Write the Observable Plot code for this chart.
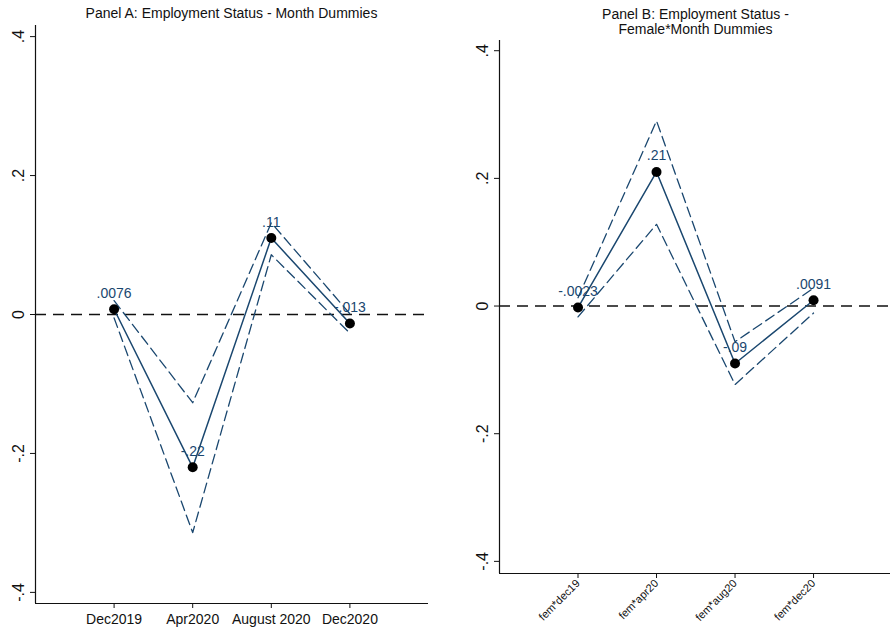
<!DOCTYPE html>
<html>
<head>
<meta charset="utf-8">
<script src="https://cdn.jsdelivr.net/npm/d3@7"></script>
<script src="https://cdn.jsdelivr.net/npm/@observablehq/plot@0.6"></script>
<style>
  html, body { margin: 0; padding: 0; background: #fff; }
  #wrap { position: relative; width: 890px; height: 631px; overflow: hidden; font-family: "Liberation Sans", Arial, sans-serif; }
  .panel { position: absolute; top: 0; }
  .title { position: absolute; text-align: center; font-size: 14px; line-height: 15px; color: #111; white-space: nowrap; }
</style>
</head>
<body>
<div id="wrap">
  <div class="panel" id="pa" style="left:0px"></div>
  <div class="panel" id="pb" style="left:445px"></div>
  <div class="title" style="left:35px;width:393px;top:6px">Panel A: Employment Status - Month Dummies</div>
  <div class="title" style="left:499px;width:393px;top:7px">Panel B: Employment Status -<br>Female*Month Dummies</div>
</div>
<script>
// ---- Panel A data ----
const monthsA = ["Dec2019", "Apr2020", "August 2020", "Dec2020"];
const coefA   = [0.0076, -0.22, 0.11, -0.013];
const lowA    = [-0.005, -0.314, 0.086, -0.027];
const highA   = [0.020, -0.127, 0.132, 0.001];
const labelsA = [".0076", "-.22", ".11", "-.013"];

// ---- Panel B data ----
const monthsB = ["fem*dec19", "fem*apr20", "fem*aug20", "fem*dec20"];
const coefB   = [-0.0023, 0.21, -0.09, 0.0091];
const lowB    = [-0.017, 0.128, -0.123, -0.011];
const highB   = [0.013, 0.29, -0.056, 0.028];
const labelsB = ["-.0023", ".21", "-.09", ".0091"];

const yTicks = [-0.4, -0.2, 0, 0.2, 0.4];

const navy = "#1a476f";
const fmt = d => d === 0 ? "0" : (d < 0 ? "-" : "") + String(Math.abs(d).toFixed(1)).replace(/^0/, "");

function rows(months, coef, low, high, labels) {
  return months.map((m, i) => ({x: i + 1, m, b: coef[i], lo: low[i], hi: high[i], lab: labels[i]}));
}

function panel({data, months, xDomain, yDomain, margins, xTickOpts}) {
  return Plot.plot({
    width: 445, height: 631,
    ...margins,
    x: {domain: xDomain, axis: null},
    y: {domain: yDomain, axis: null},
    style: {fontFamily: "'Liberation Sans', Arial, sans-serif", background: "white", color: "#111"},
    marks: [
      Plot.axisY({ticks: yTicks, tickFormat: fmt, tickRotate: -90, tickSize: 5, fontSize: 16, tickPadding: 7, label: null}),
      Plot.axisX({ticks: [1, 2, 3, 4], tickFormat: i => months[i - 1], tickSize: 5, label: null, ...xTickOpts}),
      Plot.ruleX([xDomain[0]], {stroke: "#111", strokeWidth: 1.2}),
      Plot.ruleY([yDomain[0]], {stroke: "#111", strokeWidth: 1.2}),
      Plot.ruleY([0], {stroke: "#111", strokeWidth: 1.4, strokeDasharray: "11,7"}),
      Plot.line(data, {x: "x", y: "hi", stroke: navy, strokeWidth: 1.3, strokeDasharray: "10,5"}),
      Plot.line(data, {x: "x", y: "lo", stroke: navy, strokeWidth: 1.3, strokeDasharray: "10,5"}),
      Plot.line(data, {x: "x", y: "b", stroke: navy, strokeWidth: 1.5}),
      Plot.dot(data, {x: "x", y: "b", r: 5, fill: "black", stroke: "none"}),
      Plot.text(data, {x: "x", y: "b", text: "lab", dy: -16, fill: navy, fontSize: 14})
    ]
  });
}

document.getElementById("pa").appendChild(panel({
  data: rows(monthsA, coefA, lowA, highA, labelsA),
  months: monthsA,
  xDomain: [0, 5],
  yDomain: [-0.416, 0.416],
  margins: {marginLeft: 35, marginRight: 17, marginTop: 25, marginBottom: 28},
  xTickOpts: {fontSize: 14, tickPadding: 6}
}));

document.getElementById("pb").appendChild(panel({
  data: rows(monthsB, coefB, lowB, highB, labelsB),
  months: monthsB,
  xDomain: [0, 4.98],
  yDomain: [-0.419, 0.416],
  margins: {marginLeft: 54, marginRight: 0, marginTop: 40, marginBottom: 58},
  xTickOpts: {fontSize: 11, tickRotate: -45, tickPadding: 3}
}));
</script>
</body>
</html>
